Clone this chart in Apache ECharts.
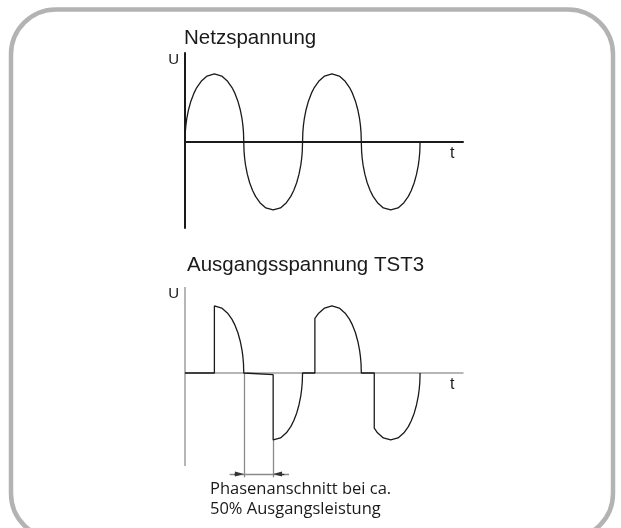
<!DOCTYPE html>
<html>
<head>
<meta charset="utf-8">
<script src="https://cdn.jsdelivr.net/npm/echarts@6/dist/echarts.min.js"></script>
<style>
  html, body { margin: 0; padding: 0; background: #ffffff; }
  #chart { width: 621px; height: 528px; }
</style>
</head>
<body>
<div id="chart"></div>
<script>
// Mains voltage: two full periods of a 50 Hz supply (time in ms, voltage in V)
const mainsTime = [
  0, 0.05, 0.15, 0.3, 0.6, 1, 1.5, 2, 2.75, 3.75, 5, 6.25, 7.25, 8, 8.5, 9, 9.4, 9.7, 9.85, 9.95,
  10, 10.05, 10.15, 10.3, 10.6, 11, 11.5, 12, 12.75, 13.75, 15, 16.25, 17.25, 18, 18.5, 19, 19.4, 19.7, 19.85, 19.95,
  20, 20.05, 20.15, 20.3, 20.6, 21, 21.5, 22, 22.75, 23.75, 25, 26.25, 27.25, 28, 28.5, 29, 29.4, 29.7, 29.85, 29.95,
  30, 30.05, 30.15, 30.3, 30.6, 31, 31.5, 32, 32.75, 33.75, 35, 36.25, 37.25, 38, 38.5, 39, 39.4, 39.7, 39.85, 39.95,
  40
];
const mainsVolts = [
  0, 46, 79, 111, 154, 195, 232, 260, 290, 315, 325, 315, 290, 260, 232, 195, 154, 111, 79, 46,
  0, -46, -79, -111, -154, -195, -232, -260, -290, -315, -325, -315, -290, -260, -232, -195, -154, -111, -79, -46,
  0, 46, 79, 111, 154, 195, 232, 260, 290, 315, 325, 315, 290, 260, 232, 195, 154, 111, 79, 46,
  0, -46, -79, -111, -154, -195, -232, -260, -290, -315, -325, -315, -290, -260, -232, -195, -154, -111, -79, -46,
  0
];

// Phase-angle controlled output of the TST3 (leading-edge cut)
const outputTime = [
  0, 5, 5, 6.25, 7.25, 8, 8.5, 9, 9.4, 9.7, 9.85, 9.95,
  10, 15, 15, 16.25, 17.25, 18, 18.5, 19, 19.4, 19.7, 19.85, 19.95,
  20, 22.1, 22.1, 22.75, 23.75, 25, 26.25, 27.25, 28, 28.5, 29, 29.4, 29.7, 29.85, 29.95,
  30, 32.2, 32.2, 32.75, 33.75, 35, 36.25, 37.25, 38, 38.5, 39, 39.4, 39.7, 39.85, 39.95,
  40
];
const outputVolts = [
  0, 0, 325, 315, 290, 260, 232, 195, 154, 111, 79, 46,
  0, -8, -325, -315, -290, -260, -232, -195, -154, -111, -79, -46,
  0, 0, 265, 290, 315, 325, 315, 290, 260, 232, 195, 154, 111, 79, 46,
  0, 0, -268, -290, -315, -325, -315, -290, -260, -232, -195, -154, -111, -79, -46,
  0
];

// Voltage span of each U axis line
const mainsAxisSpan = [-411, 425];
const outputAxisSpan = [-451, 417];

// Dimension for the cut interval (ms) and the level of its arrows (V)
const cutStart = 10;
const cutEnd = 15;
const dimLevel = -490;
const dimLineBottom = -506;
const dimLeft = 7.6;
const dimRight = 17.7;
const arrowInset = 0.75;

// Text
const titleMains = 'Netzspannung';
const titleOutput = 'Ausgangsspannung TST3';
const captionLines = ['Phasenanschnitt bei ca.', '50% Ausgangsleistung'];

const pair = (xs, ys) => xs.map((x, i) => [x, ys[i]]);

const ink = '#1a1a1a';
const grey = '#9e9e9e';

function makeX(gridIndex, color, width) {
  return {
    type: 'value', gridIndex, min: 0, max: 47.3,
    axisLine: { onZero: true, lineStyle: { color, width } },
    axisTick: { show: false }, axisLabel: { show: false }, splitLine: { show: false },
    name: 't', nameLocation: 'end', nameGap: -13,
    nameTextStyle: { fontFamily: 'Liberation Sans', fontSize: 16, color: ink,
                     align: 'left', verticalAlign: 'top', padding: [4, 0, 0, 0] }
  };
}
function makeY(gridIndex, min, max, color, width, showLine) {
  return {
    type: 'value', gridIndex, min, max,
    axisLine: { show: showLine, onZero: false, lineStyle: { color, width } },
    axisTick: { show: false }, axisLabel: { show: false }, splitLine: { show: false },
    name: 'U', nameLocation: 'end', nameGap: 1,
    nameTextStyle: { fontFamily: 'Liberation Sans', fontSize: 15, color: ink,
                     align: 'right', verticalAlign: 'top', padding: [0, 6, 0, 0] }
  };
}

const dimStyle = { color: '#8a8a8a', width: 1.3, type: 'solid' };
const arrowStyle = { color: '#333333', width: 1.3, type: 'solid' };
const axisGreyStyle = { color: grey, width: 1.5, type: 'solid' };

const chart = echarts.init(document.getElementById('chart'), null, { renderer: 'canvas' });
chart.setOption({
  backgroundColor: '#ffffff',
  animation: false,
  title: [
    { text: titleMains, left: 184, top: 28, padding: 0,
      textStyle: { fontFamily: 'Liberation Sans', fontSize: 20.5, fontWeight: 'normal', color: ink } },
    { text: titleOutput, left: 187, top: 255, padding: 0,
      textStyle: { fontFamily: 'Liberation Sans', fontSize: 20.5, fontWeight: 'normal', color: ink } }
  ],
  grid: [
    { left: 185, top: 53, width: 278, height: 175 },
    // lower panel reaches down to include the dimension below the curve
    { left: 185, top: 287, width: 278, height: 193.2 }
  ],
  xAxis: [makeX(0, ink, 2), makeX(1, grey, 1.5)],
  yAxis: [makeY(0, mainsAxisSpan[0], mainsAxisSpan[1], ink, 2, true),
          makeY(1, -520, outputAxisSpan[1], grey, 1.5, false)],
  series: [
    {
      type: 'line', xAxisIndex: 0, yAxisIndex: 0,
      data: pair(mainsTime, mainsVolts),
      showSymbol: false, smooth: false,
      lineStyle: { color: ink, width: 1.3 }
    },
    {
      type: 'line', xAxisIndex: 1, yAxisIndex: 1,
      data: pair(outputTime, outputVolts),
      showSymbol: false, smooth: false, z: 3,
      lineStyle: { color: ink, width: 1.3 },
      markLine: {
        silent: true, symbol: 'none', label: { show: false }, z: 2,
        data: [
          // U axis of the lower panel
          [{ coord: [0, outputAxisSpan[0]], lineStyle: axisGreyStyle }, { coord: [0, outputAxisSpan[1]] }],
          // dimension: extension lines, span line and the two arrows
          [{ coord: [cutStart, 0], lineStyle: dimStyle }, { coord: [cutStart, dimLineBottom] }],
          [{ coord: [cutEnd, -325], lineStyle: dimStyle }, { coord: [cutEnd, dimLineBottom] }],
          [{ coord: [dimLeft, dimLevel], lineStyle: dimStyle }, { coord: [dimRight, dimLevel] }],
          [{ coord: [dimLeft + 0.8, dimLevel], symbol: 'none', lineStyle: arrowStyle },
           { coord: [cutStart - arrowInset, dimLevel], symbol: 'triangle', symbolSize: [5, 9] }],
          [{ coord: [dimRight - 0.8, dimLevel], symbol: 'none', lineStyle: arrowStyle },
           { coord: [cutEnd + arrowInset, dimLevel], symbol: 'triangle', symbolSize: [5, 9] }]
        ]
      }
    }
  ],
  graphic: [
    {
      type: 'rect', silent: true, z: 100,
      shape: { x: 11, y: 9.5, width: 602, height: 529, r: 45 },
      style: { fill: null, stroke: '#b3b3b3', lineWidth: 4.5 }
    },
    {
      type: 'text', left: 210, top: 480, silent: true,
      style: {
        text: captionLines.join('\n'),
        font: '16.5px "Open Sans"', lineHeight: 19.5, fill: ink
      }
    }
  ]
});
</script>
</body>
</html>
